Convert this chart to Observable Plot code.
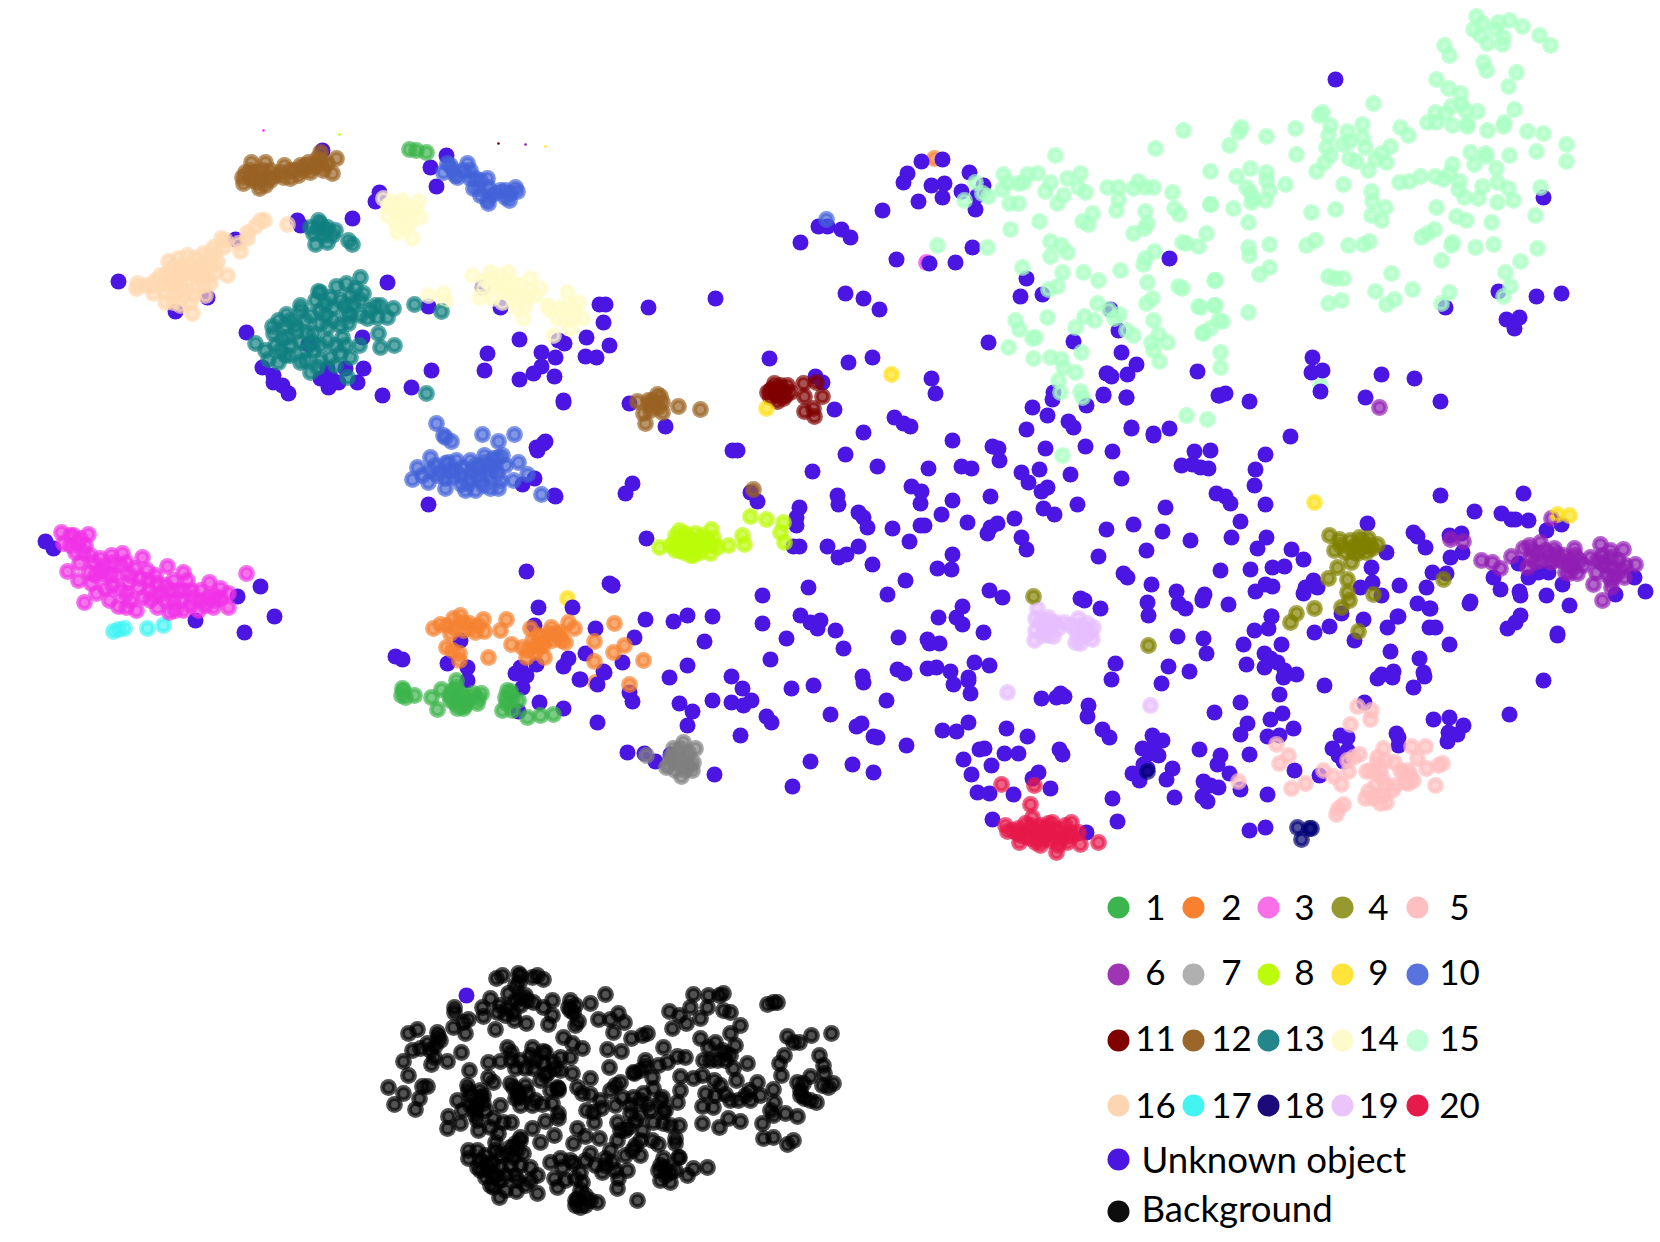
<!DOCTYPE html>
<html><head><meta charset="utf-8">
<script src="https://cdn.jsdelivr.net/npm/d3@7"></script>
<script src="https://cdn.jsdelivr.net/npm/@observablehq/plot@0.6"></script>
<style>html,body{margin:0;padding:0;background:#fff}svg{display:block}</style>
</head><body><div id="chart"></div>
<script>
const classNames = ["1","2","3","4","5","6","7","8","9","10","11","12","13","14","15","16","17","18","19","20","Unknown object","Background"];
const classColors = ["#3cb44b","#f58231","#f032e6","#808000","#ffbebe","#911eb4","#808080","#bcfb0a","#ffe119","#4363d8","#800000","#9a6324","#108080","#fffac8","#aaffc3","#ffd8b1","#42f4f4","#000075","#e6beff","#e6194b","#4b16e4","#000000"];
const legendColors = ["#3cb54e","#f9802f","#f870e8","#969830","#fdbfbf","#9f35b5","#b0b0b0","#bcfb0a","#ffe33a","#5873dd","#800000","#9b662a","#22868a","#fdfacb","#c2ffd8","#fcd6b2","#44f4f0","#1c0a78","#e9c5fc","#e61a4b","#4b16e4","#0d0d0d"];

const unknownObject = [[921,161],[942,159],[907,173],[903,182],[969,172],[931,185],[944,183],[983,185],[961,191],[942,197],[918,201],[975,209],[977,195],[882,210],[818,226],[827,226],[841,229],[850,237],[800,242],[896,259],[929,263],[955,262],[972,247],[1026,278],[1020,296],[1042,294],[1169,258],[845,293],[863,298],[879,309],[1110,309],[1118,330],[988,342],[1073,341],[1121,352],[1136,364],[1106,373],[1111,376],[1127,374],[1197,371],[848,362],[872,357],[931,378],[935,393],[815,376],[822,382],[834,409],[894,417],[903,423],[910,426],[863,432],[1053,392],[1052,399],[1103,395],[1126,397],[1086,405],[1032,407],[1047,415],[1068,421],[1073,427],[1026,429],[1131,427],[1153,433],[1169,428],[1218,395],
[1335,79],[1498,291],[1536,296],[1561,293],[1445,307],[1543,197],[1506,319],[1519,317],[1514,328],
[769,358],[629,403],[665,426],[952,440],[992,446],[998,448],[999,460],[845,454],[877,466],[928,468],[961,466],[971,468],[1021,472],[1028,482],[1039,469],[1070,474],[1047,487],[1041,491],[1045,448],[732,450],[737,450],[812,471],[632,483],[625,493],[750,492],[757,501],[837,495],[838,504],[799,507],[796,517],[796,525],[911,486],[921,491],[920,503],[952,500],[990,496],[858,512],[863,517],[867,527],[941,514],[967,522],[892,528],[920,525],[924,525],[997,523],[990,527],[987,533],[1014,518],[1021,537],[1026,549],[1043,508],[1054,514],[1077,504],[646,538],[909,541],[827,546],[858,546],[846,554],[838,557],[793,546],[799,546],[872,564],[952,554],[937,568],[951,569],[612,585],[808,587],[762,595],[905,580],[887,594],[989,590],[1002,597],[1080,598],
[595,628],[645,619],[673,621],[687,615],[712,616],[634,637],[704,641],[762,623],[800,615],[810,622],[820,620],[817,628],[835,630],[786,638],[843,648],[898,637],[927,639],[929,643],[939,643],[938,617],[956,617],[962,606],[962,624],[983,632],[585,653],[622,662],[603,671],[580,679],[597,684],[687,665],[770,659],[669,677],[731,676],[742,688],[629,692],[632,701],[679,703],[692,711],[712,700],[731,702],[743,705],[751,700],[791,688],[813,685],[862,676],[863,682],[897,669],[904,673],[927,668],[936,667],[950,671],[974,662],[989,665],[968,677],[968,680],[953,684],[970,693],[886,700],[597,722],[687,725],[766,716],[771,722],[830,714],[740,735],[856,726],[861,723],[873,736],[877,737],[906,745],[942,730],[956,731],[968,722],[1006,728],[1027,736],[627,752],[644,753],[655,761],[670,754],[714,774],[810,761],[852,764],[873,772],[792,786],[963,759],[979,749],[984,748],[991,765],[1004,753],[1018,753],[971,774],[977,792],[989,793],[1013,794],[1032,778],[1038,772],[1050,788],[992,819],[1059,749],[1062,754],[1041,698],[1056,697],[1060,693],[1064,696],
[1100,608],[1084,600],[1147,602],[1148,615],[1178,603],[1185,608],[1202,600],[1228,604],[1271,616],[1254,630],[1268,628],[1243,644],[1281,644],[1314,632],[1329,626],[1341,613],[1363,619],[1387,627],[1397,616],[1417,603],[1429,608],[1429,627],[1435,627],[1469,603],[1449,644],[1354,640],[1390,651],[1419,658],[1507,628],[1515,622],[1520,615],[1557,635],[1543,680],[1509,714],
[1115,663],[1111,679],[1168,666],[1189,671],[1161,683],[1177,636],[1203,638],[1206,653],[1246,664],[1264,653],[1270,658],[1277,662],[1264,667],[1284,670],[1283,677],[1296,674],[1324,685],[1279,694],[1377,678],[1381,674],[1393,671],[1392,677],[1423,672],[1424,676],[1413,687],[1088,705],[1087,716],[1102,729],[1109,737],[1214,712],[1240,702],[1282,713],[1270,719],[1247,723],[1240,734],[1267,736],[1279,735],[1293,728],[1364,702],[1433,719],[1449,717],[1463,725],[1448,732],[1457,734],[1447,741],[1396,733],[1398,737],[1398,745],[1340,735],[1347,737],[1332,748],[1347,750],[1338,755],[1343,761],[1152,735],[1162,740],[1142,748],[1152,747],[1158,755],[1149,753],[1143,764],[1132,773],[1139,780],[1172,768],[1166,779],[1147,768],[1199,749],[1220,755],[1217,764],[1229,773],[1249,754],[1294,770],[1319,775],[1203,781],[1210,785],[1218,787],[1202,796],[1207,801],[1240,789],[1267,794],[1174,797],[1112,798],[1117,821],[1086,832],[1249,830],[1265,827],
[1312,357],[1311,372],[1322,370],[1320,391],[1381,374],[1414,378],[1365,397],[1440,401],[1107,373],[1103,394],[1126,397],[1219,395],[1225,393],[1249,401],[1131,428],[1153,435],[1290,436],[1085,446],[1112,451],[1194,451],[1210,450],[1265,454],[1181,465],[1192,464],[1200,467],[1208,468],[1255,469],[1254,485],[1121,478],[1216,493],[1225,496],[1230,503],[1265,504],[1440,495],[1523,493],[1474,511],[1501,513],[1511,519],[1515,519],[1528,520],[1546,530],[1561,524],[1165,507],[1240,521],[1133,524],[1106,529],[1162,531],[1190,540],[1231,537],[1266,537],[1257,548],[1291,549],[1367,523],[1303,559],[1413,532],[1417,536],[1425,547],[1449,535],[1461,533],[1462,552],[1450,557],[1386,552],[1098,556],[1146,550],[1220,570],[1250,569],[1272,567],[1284,566],[1371,567],[1432,572],[1446,573],[1123,573],[1127,577],[1151,584],[1176,591],[1493,577],[1518,563],[1528,577],[1538,572],[1548,572],[1562,584],[1634,577],[1615,594],[1645,591],[1372,582],[1360,587],[1399,585],[1426,587],[1313,580],[1305,587],[1303,593],[1317,587],[1265,584],[1272,586],[1255,591],[1204,594],[1202,598],[1381,595],[1430,608],[1470,601],[1500,589],[1519,591],[1520,595],[1546,595],[1569,605],[1271,616],[1398,616],[1557,633],
[322,150],[446,155],[430,167],[436,186],[379,192],[375,201],[297,220],[300,225],[352,218],[235,239],[118,281],[207,297],[175,311],[387,282],[428,306],[482,287],[500,307],[599,304],[605,304],[603,322],[246,332],[362,337],[519,339],[558,340],[564,343],[586,337],[609,345],[487,353],[541,352],[555,357],[585,356],[596,357],[484,370],[431,370],[541,366],[533,373],[519,379],[554,376],[411,387],[382,395],[563,400],[262,367],[273,375],[273,382],[282,385],[288,393],[320,378],[328,387],[327,368],[338,382],[345,368],[363,368],[357,382],[308,344],[330,377],
[45,541],[53,548],[260,586],[237,596],[274,616],[195,620],[244,632],[526,571],[572,607],[538,607],[612,585],[534,625],[395,656],[402,659],[460,640],[447,663],[467,667],[467,680],[568,658],[563,666],[536,664],[520,667],[515,673],[526,675],[522,687],[604,672],[579,679],[539,702],[563,708],[518,711],
[466,995],[648,307],[715,298],[545,441],[537,450],[554,495],[536,447],[543,443],[534,478],[522,484],[555,496],[428,504],[563,402],[609,583]];

const class1 = [[402,688],[401,695],[414,695],[431,697],[441,689],[456,680],[456,687],[449,695],[459,700],[457,708],[463,708],[437,709],[473,693],[481,693],[477,703],[467,700],[510,691],[512,698],[506,703],[502,710],[512,710],[518,700],[527,717],[540,715],[553,714],[409,149],[416,150],[426,152],[452,690],[462,695],[460,693],[450,700],[470,697],[465,705],[455,703],[510,695],[505,697],[507,690],[478,698],[403,690],[405,697]];
const class2 = [[433,628],[440,624],[453,618],[460,615],[455,628],[469,623],[483,619],[484,631],[475,632],[506,619],[500,630],[530,628],[446,647],[459,653],[459,660],[488,657],[511,644],[522,647],[535,645],[526,657],[544,657],[538,647],[540,637],[551,627],[555,633],[561,640],[565,642],[568,622],[574,628],[614,623],[594,641],[624,645],[613,652],[594,661],[643,660],[629,684],[447,625],[462,622],[470,628],[478,625],[463,630],[450,633],[527,650],[532,640],[545,640],[548,633],[535,652],[552,640],[543,645],[558,635],[560,632],[538,635],[452,650]];
const class3 = [[61,532],[73,535],[88,534],[63,543],[77,543],[83,552],[79,563],[67,571],[78,580],[93,562],[104,565],[111,555],[122,553],[142,557],[167,566],[183,572],[173,580],[187,580],[209,582],[191,590],[220,588],[228,593],[246,573],[228,607],[213,607],[214,595],[198,610],[193,598],[169,612],[157,607],[173,600],[161,593],[149,590],[136,610],[126,607],[118,606],[109,600],[84,602],[96,593],[91,583],[105,588],[126,593],[128,582],[138,587],[116,575],[102,573],[89,572],[134,568],[147,570],[155,575],[157,583],[126,562],[112,562],[200,600],[183,610],[208,597],[183,590],[70,545],[85,545],[75,552],[90,555],[100,558],[100,570],[110,575],[120,565],[112,585],[120,590],[130,575],[140,578],[148,580],[143,597],[150,600],[165,585],[170,590],[178,590],[180,600],[190,605],[200,590],[205,605],[215,600],[220,598],[165,600],[175,610],[155,595],[130,600],[95,575],[70,535],[80,538]];
const class4 = [[1329,535],[1339,539],[1334,550],[1345,552],[1351,562],[1337,567],[1359,537],[1368,538],[1377,544],[1355,545],[1360,547],[1366,552],[1357,553],[1351,548],[1328,578],[1347,579],[1347,592],[1349,600],[1341,607],[1373,594],[1314,608],[1296,613],[1290,622],[1358,631],[1443,579],[1148,645],[1033,596],[1362,540],[1370,545],[1350,540],[1364,546],[1354,552],[1372,548],[1340,545]];
const class5 = [[1357,706],[1371,710],[1370,719],[1350,724],[1276,744],[1288,755],[1279,763],[1305,783],[1291,788],[1238,781],[1323,770],[1333,776],[1341,784],[1348,771],[1353,757],[1359,754],[1383,748],[1377,757],[1377,763],[1366,771],[1394,762],[1411,746],[1425,746],[1417,758],[1426,768],[1438,765],[1442,763],[1435,785],[1403,773],[1410,775],[1413,780],[1408,783],[1382,778],[1375,785],[1368,791],[1392,790],[1365,798],[1380,803],[1386,802],[1343,804],[1338,808],[1336,814],[1347,760],[1385,760],[1380,770],[1375,772],[1385,785],[1378,795],[1400,770],[1408,770],[1405,782],[1372,798],[1383,795],[1395,785],[1370,770]];
const class6 = [[1379,407],[1450,539],[1463,541],[1481,560],[1492,562],[1500,568],[1511,556],[1551,518],[1527,567],[1523,548],[1529,545],[1540,542],[1538,553],[1535,562],[1554,548],[1556,553],[1550,562],[1561,560],[1574,548],[1579,560],[1573,567],[1569,573],[1577,573],[1590,557],[1600,544],[1602,555],[1602,563],[1596,572],[1611,557],[1611,567],[1621,570],[1623,549],[1635,564],[1611,580],[1593,584],[1607,575],[1624,577],[1602,600],[1611,587],[1532,550],[1545,550],[1550,555],[1540,560],[1530,558],[1555,560],[1563,555],[1568,565],[1575,555],[1583,565],[1565,572],[1570,560],[1610,550],[1618,560],[1605,565],[1615,575],[1625,565],[1597,560]];
const class7 = [[683,742],[695,748],[673,748],[646,755],[670,757],[668,765],[685,757],[693,762],[692,770],[685,770],[681,776],[678,763],[666,767],[677,752],[680,748],[688,752],[682,766],[690,765],[675,770],[672,760],[686,762]];
const class8 = [[659,547],[670,545],[679,530],[677,540],[680,550],[687,537],[695,533],[693,555],[697,543],[705,545],[710,553],[711,529],[713,538],[683,547],[690,548],[700,552],[717,547],[675,535],[702,535],[728,545],[742,535],[744,544],[750,516],[766,519],[783,522],[780,532],[784,542],[673,545],[682,540],[688,545],[695,545],[700,545],[708,542],[685,533],[692,540],[700,540],[675,550],[690,555],[695,550],[705,540],[712,545],[683,552]];
const class9 = [[1557,514],[1569,515],[1314,502],[891,374],[766,408]];
const class10 = [[447,163],[467,163],[443,172],[457,177],[463,170],[475,178],[473,188],[487,178],[488,187],[487,200],[488,203],[500,190],[509,200],[515,187],[517,191],[495,193],[453,170],[826,219],[436,423],[443,435],[445,437],[451,441],[482,434],[498,441],[514,434],[430,457],[417,467],[412,479],[422,475],[428,482],[430,470],[445,463],[448,462],[440,472],[437,475],[456,460],[453,477],[445,488],[461,484],[462,467],[470,460],[472,470],[470,478],[475,490],[484,455],[478,467],[487,475],[483,485],[490,488],[498,488],[497,473],[498,457],[502,455],[493,458],[518,462],[513,480],[527,474],[541,494],[490,465],[450,165],[455,175],[470,170],[480,180],[478,188],[490,195],[480,195],[505,190],[510,193],[505,197],[470,178],[450,470],[460,475],[468,483],[478,475],[480,480],[490,470],[495,465],[505,465],[500,480],[485,462],[475,465],[455,470],[465,490],[445,478],[435,465]];
const class11 = [[774,383],[767,392],[777,390],[783,390],[790,392],[777,401],[780,395],[803,383],[804,396],[822,396],[816,382],[804,411],[813,408],[814,416],[772,388],[785,395],[775,395],[770,390],[770,397],[787,385],[780,385],[783,398]];
const class12 = [[251,162],[265,162],[242,177],[243,183],[250,177],[259,188],[260,177],[270,170],[268,178],[283,177],[284,165],[275,175],[298,175],[300,165],[310,172],[308,162],[317,158],[320,152],[323,170],[332,173],[336,158],[327,163],[313,167],[303,170],[252,180],[637,401],[648,400],[657,394],[662,402],[643,413],[645,423],[662,412],[678,406],[700,409],[655,403],[753,489],[255,172],[262,170],[270,180],[250,170],[280,172],[290,170],[295,170],[305,165],[315,165],[320,160],[322,165],[258,182],[265,185],[245,172],[290,178],[652,400],[660,396],[650,405],[650,410],[658,407]];
const class13 = [[318,220],[310,227],[327,227],[313,233],[335,230],[323,235],[315,244],[327,242],[348,240],[352,244],[320,223],[332,235],[360,277],[346,283],[336,286],[318,291],[320,292],[363,293],[355,288],[300,305],[300,310],[330,297],[353,303],[375,305],[393,308],[367,318],[377,317],[387,317],[370,310],[286,314],[272,326],[285,325],[273,333],[305,320],[320,310],[333,307],[347,313],[307,333],[320,323],[333,320],[348,323],[342,337],[327,340],[378,333],[359,345],[380,347],[394,345],[255,343],[268,359],[280,350],[278,362],[290,355],[300,362],[313,350],[317,367],[330,357],[350,357],[340,353],[300,342],[347,377],[287,337],[313,333],[327,327],[414,304],[441,311],[426,393],[295,325],[310,315],[325,315],[340,325],[350,315],[290,345],[305,350],[320,345],[335,345],[345,345],[275,345],[265,350],[285,355],[305,360],[320,360],[335,365],[310,372],[296,330],[312,342],[325,303],[340,300],[350,295],[360,300],[345,305],[315,300],[282,338],[278,320],[290,320],[360,315],[380,305],[318,228],[325,230]];
const class14 = [[383,198],[393,202],[402,200],[418,201],[387,215],[400,213],[408,208],[420,217],[410,223],[397,232],[412,238],[405,227],[428,295],[443,293],[445,301],[472,275],[490,272],[508,272],[479,297],[492,298],[482,288],[497,283],[513,283],[530,278],[540,288],[510,293],[527,297],[517,308],[523,318],[547,305],[567,292],[578,302],[560,307],[557,318],[573,318],[582,318],[570,328],[553,335],[502,302],[395,210],[405,215],[410,215],[395,222],[400,205],[388,205],[415,208],[400,225],[490,285],[500,285],[505,290],[515,290],[520,295],[490,278],[505,280],[520,285],[530,290],[535,295],[525,305],[515,300],[550,310],[565,310],[570,305],[565,320],[575,310],[485,280],[500,275]];
const class15 = [[1055,155],[1155,148],[1183,130],[1210,171],[1003,174],[975,182],[1027,174],[1037,173],[1080,173],[1067,178],[1050,182],[1007,182],[1018,183],[1023,182],[1002,189],[1045,191],[1085,192],[1078,187],[1063,195],[1107,187],[1118,187],[1133,188],[1138,181],[1145,187],[1153,187],[1172,192],[1118,199],[1116,210],[1009,203],[1018,203],[1057,203],[988,196],[964,200],[982,193],[1145,211],[1174,208],[1179,214],[1210,204],[1092,213],[1082,221],[1088,224],[1147,223],[1144,228],[1133,233],[1039,221],[1010,229],[1050,241],[1061,245],[1067,252],[1050,256],[1206,233],[1182,242],[1186,243],[1198,246],[1154,251],[1145,258],[1143,264],[937,245],[987,247],[1022,267],[1062,272],[1083,272],[1098,280],[1120,270],[1147,282],[1057,286],[1048,289],[1178,286],[1182,288],[1214,280],[1152,298],[1146,303],[1198,306],[1214,305],[1097,303],[1119,314],[1108,309],[1047,317],[1015,320],[1019,329],[1084,316],[1094,320],[1114,318],[1075,327],[1153,320],[1126,330],[1133,335],[1158,334],[1202,333],[1210,328],[1218,320],[1032,338],[1035,337],[1167,342],[1151,342],[1153,350],[1008,347],[1081,352],[1050,357],[1033,358],[1061,359],[1063,367],[1075,372],[1159,361],[1220,352],[1220,367],[1058,380],[1060,392],[1080,391],[1082,397],[1186,415],[1207,419],
[1476,16],[1482,23],[1473,29],[1480,35],[1487,43],[1495,29],[1498,22],[1509,20],[1522,26],[1539,35],[1550,45],[1502,44],[1503,37],[1444,45],[1449,55],[1483,62],[1486,70],[1516,72],[1508,86],[1436,79],[1448,88],[1460,93],[1451,106],[1461,104],[1465,110],[1477,111],[1435,112],[1445,113],[1427,122],[1436,122],[1452,125],[1467,123],[1467,126],[1487,130],[1514,109],[1504,122],[1503,126],[1527,131],[1543,133],[1566,144],[1566,161],[1536,151],[1509,155],[1470,152],[1485,153],[1486,156],[1474,164],[1452,164],[1496,168],[1497,182],[1508,188],[1540,187],[1513,200],[1497,202],[1482,186],[1478,198],[1464,197],[1459,181],[1458,189],[1449,173],[1435,176],[1443,179],[1420,176],[1409,181],[1399,182],[1436,207],[1456,216],[1466,220],[1491,222],[1535,215],[1434,229],[1427,233],[1421,237],[1452,242],[1451,245],[1475,247],[1493,244],[1537,248],[1520,261],[1441,260],[1505,272],[1510,286],[1503,296],[1449,292],[1441,303],[1373,103],[1322,112],[1319,115],[1330,125],[1328,135],[1362,124],[1347,131],[1362,137],[1349,141],[1342,144],[1326,147],[1365,147],[1390,146],[1400,127],[1408,135],[1330,155],[1324,162],[1316,171],[1349,158],[1356,161],[1375,159],[1381,153],[1386,162],[1368,170],[1343,184],[1371,191],[1372,201],[1385,207],[1371,215],[1381,220],[1335,209],[1311,212],[1315,240],[1306,245],[1348,245],[1369,241],[1363,244],[1391,273],[1375,291],[1412,289],[1394,299],[1386,304],[1328,276],[1335,278],[1343,278],[1328,303],[1341,300],[1295,128],[1296,154],[1266,136],[1241,127],[1238,132],[1229,145],[1250,168],[1236,176],[1266,172],[1266,180],[1246,187],[1250,192],[1269,190],[1265,200],[1253,198],[1251,202],[1285,184],[1210,204],[1233,208],[1248,222],[1248,247],[1249,255],[1269,244],[1269,267],[1259,274],[1215,280],[1215,305],[1248,312],[1222,321],[1203,332],[1200,307],[1062,455]];
const class16 = [[264,220],[260,220],[255,226],[247,232],[287,224],[240,251],[247,238],[238,243],[221,238],[227,275],[213,247],[223,247],[217,262],[203,253],[187,255],[178,258],[168,261],[197,267],[183,267],[175,272],[210,283],[200,277],[187,280],[177,283],[163,283],[152,285],[137,283],[136,288],[145,285],[153,293],[165,302],[175,293],[193,295],[207,277],[192,313],[173,302],[185,290],[197,287],[203,270],[172,277],[180,277],[195,258],[190,265],[205,262],[210,255],[195,275],[190,272],[170,268],[165,275],[180,290],[165,292],[155,280],[170,285],[200,265],[185,273],[213,265],[215,272],[205,295],[190,302],[180,305],[225,240],[215,252],[203,285],[175,265],[160,275]];
const class17 = [[113,631],[124,628],[147,628],[163,625],[118,629]];
const class18 = [[1297,827],[1309,828],[1311,828],[1301,839],[1147,771]];
const class19 = [[1037,608],[1035,618],[1035,630],[1034,640],[1048,617],[1053,623],[1045,630],[1053,636],[1064,622],[1078,618],[1087,623],[1093,627],[1092,639],[1075,630],[1075,642],[1080,643],[1083,628],[1055,622],[1007,692],[1150,705],[1040,622],[1045,620],[1042,635],[1048,628],[1058,628],[1080,625],[1085,635],[1090,632],[1070,625],[1078,637],[1048,635]];
const class20 = [[1001,784],[1034,785],[1030,804],[1032,817],[1005,825],[1007,831],[1018,828],[1025,823],[1019,842],[1030,830],[1040,845],[1037,837],[1052,822],[1047,833],[1056,852],[1055,837],[1060,838],[1071,822],[1067,842],[1080,844],[1078,832],[1098,842],[1043,828],[1055,828],[1065,837],[1017,833],[1020,835],[1030,825],[1035,830],[1040,825],[1045,835],[1050,840],[1035,842],[1025,836],[1060,830],[1065,825],[1072,835],[1070,832],[1048,823],[1042,840],[1012,830],[1058,845],[1047,828],[1030,838]];
const background = [[496,978],[502,975],[518,973],[519,982],[532,977],[537,975],[543,979],[508,993],[490,998],[520,997],[527,1000],[533,1002],[552,1000],[570,1000],[568,1007],[573,1012],[590,1003],[605,994],[454,1007],[454,1012],[482,1007],[483,1016],[497,1012],[507,1008],[513,1013],[543,1007],[552,1015],[548,1024],[578,1021],[598,1019],[610,1019],[618,1013],[624,1022],[514,1020],[526,1023],[468,1019],[463,1022],[453,1027],[465,1033],[495,1029],[613,1032],[408,1033],[417,1029],[437,1032],[438,1036],[427,1043],[631,1038],[642,1035],[647,1033],[563,1037],[572,1043],[582,1048],[507,1047],[532,1047],[543,1051],[412,1050],[420,1048],[461,1052],[434,1057],[447,1061],[431,1064],[403,1061],[511,1052],[511,1060],[500,1061],[488,1062],[607,1049],[621,1051],[663,1047],[560,1057],[570,1057],[553,1062],[543,1063],[533,1068],[525,1068],[547,1073],[469,1070],[408,1075],[609,1067],[645,1066],[633,1072],[658,1065],[667,1062],[677,1056],[685,1057],[700,1038],[708,1047],[725,1053],[735,1045],[730,1033],[740,1025],[719,995],[723,993],[708,995],[693,994],[690,1007],[707,1007],[723,1010],[730,1012],[669,1011],[679,1015],[686,1023],[700,1018],[672,1028],[767,1004],[773,1002],[777,1002],[787,1036],[793,1042],[799,1042],[811,1035],[831,1033],[784,1055],[779,1063],[781,1075],[819,1055],[823,1065],[824,1073],[810,1076],[797,1082],[803,1083],[822,1085],[833,1083],[828,1087],[703,1060],[710,1060],[717,1060],[733,1068],[747,1063],[736,1080],[714,1080],[702,1075],[693,1078],[680,1076],[757,1082],[773,1089],[749,1090],[738,1100],[725,1094],[705,1093],[702,1106],[713,1107],[774,1102],[804,1098],[816,1102],[797,1116],[785,1113],[773,1115],[762,1123],[728,1118],[740,1121],[719,1127],[702,1123],[763,1138],[773,1137],[787,1144],[793,1140],[680,1090],[677,1102],[662,1097],[663,1111],[663,1123],[679,1125],[653,1122],[647,1104],[643,1093],[633,1097],[622,1097],[653,1088],[615,1085],[620,1082],[652,1077],[634,1073],[572,1073],[590,1078],[577,1087],[582,1093],[590,1094],[558,1088],[557,1087],[488,1077],[493,1082],[467,1085],[457,1100],[483,1095],[477,1103],[475,1110],[500,1105],[510,1083],[518,1095],[532,1105],[542,1104],[552,1103],[558,1113],[558,1118],[448,1116],[447,1128],[460,1123],[477,1120],[478,1130],[493,1118],[490,1127],[503,1122],[511,1122],[532,1128],[545,1121],[498,1133],[495,1142],[554,1135],[540,1142],[520,1137],[388,1087],[403,1093],[394,1104],[415,1109],[419,1098],[422,1086],[427,1086],[586,1110],[593,1112],[601,1108],[594,1122],[577,1128],[573,1143],[585,1136],[599,1138],[617,1140],[617,1122],[630,1113],[628,1127],[642,1130],[652,1140],[658,1144],[675,1138],[675,1143],[679,1157],[663,1158],[468,1150],[468,1158],[477,1150],[492,1163],[477,1167],[485,1177],[493,1177],[493,1187],[500,1180],[499,1197],[516,1191],[537,1193],[510,1147],[520,1140],[513,1157],[523,1153],[530,1167],[537,1175],[530,1180],[517,1150],[554,1178],[557,1187],[550,1162],[560,1158],[562,1167],[573,1163],[580,1172],[582,1182],[577,1198],[580,1207],[597,1202],[590,1153],[605,1158],[612,1162],[602,1172],[627,1170],[618,1178],[617,1188],[632,1150],[637,1200],[665,1167],[660,1180],[670,1182],[658,1170],[687,1175],[693,1168],[707,1167],[678,1157],[487,1163],[500,1167],[488,1170],[507,1153],[515,1143],[575,1200],[480,1097],[483,1103],[475,1107],[517,1090],[520,1097],[513,1087],[558,1090],
[470,1105],[480,1090],[485,1110],[470,1095],[475,1115],[462,1110],[468,1090],[520,1105],[515,1098],[525,1085],[527,1092],[535,1100],[550,1090],[545,1075],[555,1068],[560,1070],[540,1080],[535,1060],[520,1060],[515,1068],[530,1055],[545,1052],[610,1090],[615,1105],[600,1100],[630,1105],[640,1115],[635,1120],[625,1130],[640,1140],[620,1130],[610,1150],[625,1155],[640,1155],[635,1145],[615,1170],[605,1165],[595,1165],[585,1160],[570,1160],[565,1180],[575,1178],[580,1190],[585,1195],[575,1205],[585,1205],[590,1200],[480,1160],[485,1155],[495,1150],[500,1155],[510,1165],[520,1165],[495,1175],[505,1175],[515,1175],[490,1185],[505,1190],[525,1185],[517,1180],[480,1170],[670,1172],[665,1175],[675,1170],[660,1165],[670,1125],[665,1110],[660,1100],[720,1085],[715,1095],[730,1100],[745,1095],[750,1100],[760,1095],[770,1110],[800,1095],[810,1100],[800,1090],[725,1060],[730,1055],[722,1050],[715,1042],[640,1070],[645,1060],[640,1100],[650,1110],[575,1025],[570,1010],[575,1005],[520,1005],[525,995],[515,1000],[505,1015],[500,1005],[515,985],[520,975],[440,1040],[435,1045],[430,1050]];
const belowUnknown = [["2",934,158],["3",926,262],["2",595,682],["9",567,598],["15",1320,385]];
const clippedSlivers = [["3",263,130],["8",339,134],["11",498,143],["6",525,144],["9",545,146]];

const legendLabelCenters = [1155,1231,1304,1378,1459];
const legendDotColumns = [1118,1193,1268,1342,1417];
const legendDotRows = [907,974,1040,1105,1159,1211];
const legendTextRows = [919,984,1050,1117,1172,1221];

const classPoints = [class1,class2,class3,class4,class5,class6,class7,class8,class9,class10,class11,class12,class13,class14,class15,class16,class17,class18,class19,class20];
const rows = (list, name) => list.map(([x, y]) => ({x, y, name}));
const drawOrder = [13,4,5,18,14,15,10,16,17,19,2,0,1,3,6,7,8,9,11,12];
const ringed = drawOrder.flatMap(i => rows(classPoints[i], classNames[i]));
const bgRows = rows(background, "Background");
const unkRows = rows(unknownObject, "Unknown object");
const behind = belowUnknown.map(([name, x, y]) => ({x, y, name}));
const slivers = clippedSlivers.map(([name, x, y]) => ({x, y, name}));
const legendItems = classNames.map((name, i) => {
  const row = i < 20 ? Math.floor(i / 5) : i - 16;
  const col = i < 20 ? i % 5 : 0;
  return {name, fillColor: legendColors[i], dx: legendDotColumns[col], dy: legendDotRows[row],
          tx: i < 20 ? legendLabelCenters[col] : 1141, ty: legendTextRows[row], anchor: i < 20 ? "middle" : "start"};
});

const ringDots = data => [
  Plot.dot(data, {x: "x", y: "y", r: 8.4, fill: "name", fillOpacity: 0.68}),
  Plot.dot(data, {x: "x", y: "y", r: 4.9, stroke: "name", strokeWidth: 2.8, strokeOpacity: 0.62, fill: "none"})
];
const chart = Plot.plot({
  width: 1660, height: 1242, margin: 0,
  style: {background: "#fff"},
  x: {domain: [0, 1660], range: [0, 1660], axis: null},
  y: {domain: [0, 1242], range: [0, 1242], axis: null},
  color: {domain: classNames, range: classColors},
  marks: [
    ...ringDots(behind),
    Plot.dot(unkRows, {x: "x", y: "y", r: 8, fill: "name"}),
    Plot.dot(slivers, {x: "x", y: "y", r: 1.3, fill: "name"}),
    ...ringDots(ringed),
    ...ringDots(bgRows),
    Plot.dot(legendItems, {x: "dx", y: "dy", r: 11, fill: d => d.fillColor}),
    Plot.text(legendItems.filter(d => d.anchor === "middle"), {x: "tx", y: "ty", text: "name", textAnchor: "middle", lineAnchor: "bottom", fontSize: 35, fontFamily: "Lato, sans-serif", fill: "#000"}),
    Plot.text(legendItems.filter(d => d.anchor === "start"), {x: "tx", y: "ty", text: "name", textAnchor: "start", lineAnchor: "bottom", fontSize: 36.6, fontFamily: "Lato, sans-serif", fill: "#000"})
  ]
});
document.getElementById("chart").append(chart);
</script></body></html>
